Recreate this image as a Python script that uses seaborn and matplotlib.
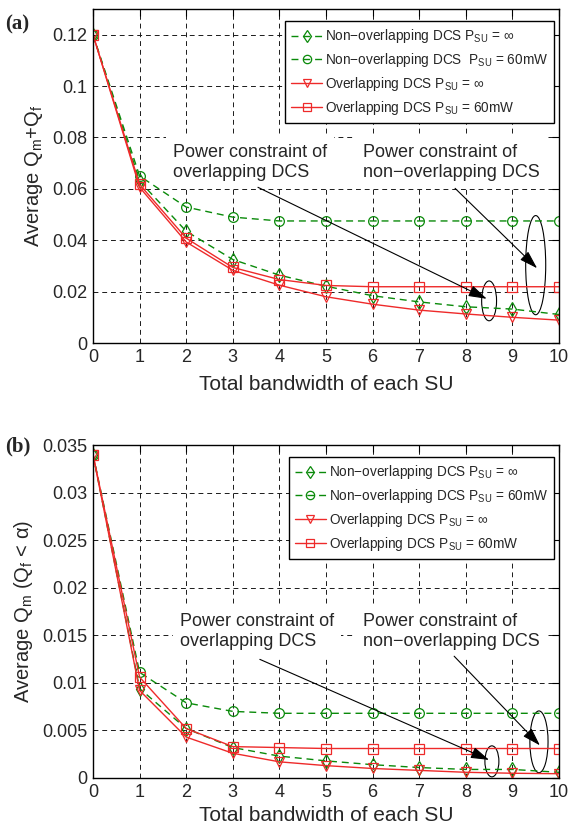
import numpy as np
import pandas as pd
import seaborn as sns
import matplotlib
matplotlib.use("Agg")
import matplotlib.pyplot as plt
from matplotlib.patches import Ellipse
from matplotlib.lines import Line2D

# ---------------- data ----------------
bandwidth = [0, 1, 2, 3, 4, 5, 6, 7, 8, 9, 10]

# panel (a): Average Qm + Qf
a_nonov_inf = [0.120, 0.063, 0.0435, 0.0325, 0.0264, 0.0221, 0.0184, 0.0160, 0.0141, 0.0132, 0.0111]
a_nonov_60 = [0.120, 0.065, 0.0529, 0.0490, 0.0475, 0.0475, 0.0475, 0.0475, 0.0475, 0.0475, 0.0475]
a_ov_inf = [0.120, 0.0606, 0.0393, 0.0283, 0.0225, 0.0180, 0.0151, 0.0128, 0.0113, 0.0100, 0.0089]
a_ov_60 = [0.120, 0.0617, 0.0408, 0.0294, 0.0247, 0.0224, 0.0219, 0.0219, 0.0219, 0.0219, 0.0219]

# panel (b): Average Qm (Qf < alpha)
b_nonov_inf = [0.0340, 0.0094, 0.0052, 0.0032, 0.0023, 0.0018, 0.0014, 0.0011, 0.0009, 0.0009, 0.0006]
b_nonov_60 = [0.0340, 0.0111, 0.0079, 0.0070, 0.0068, 0.0068, 0.0068, 0.0068, 0.0068, 0.0068, 0.0068]
b_ov_inf = [0.0340, 0.0092, 0.0043, 0.0026, 0.0017, 0.0013, 0.0010, 0.0008, 0.0006, 0.0005, 0.00045]
b_ov_60 = [0.0340, 0.0106, 0.0052, 0.0033, 0.0032, 0.0031, 0.0031, 0.0031, 0.0031, 0.0031, 0.0031]

labels_a = ["Non\u2212overlapping DCS P$_{\\mathregular{SU}}$ = \u221e",
            "Non\u2212overlapping DCS  P$_{\\mathregular{SU}}$ = 60mW",
            "Overlapping DCS P$_{\\mathregular{SU}}$ = \u221e",
            "Overlapping DCS P$_{\\mathregular{SU}}$ = 60mW"]
labels_b = ["Non\u2212overlapping DCS P$_{\\mathregular{SU}}$ = \u221e",
            "Non\u2212overlapping DCS P$_{\\mathregular{SU}}$ = 60mW",
            "Overlapping DCS P$_{\\mathregular{SU}}$ = \u221e",
            "Overlapping DCS P$_{\\mathregular{SU}}$ = 60mW"]

xticks = list(range(0, 11))
yticks_a = [0, 0.02, 0.04, 0.06, 0.08, 0.1, 0.12]
yticklabels_a = ["0", "0.02", "0.04", "0.06", "0.08", "0.1", "0.12"]
yticks_b = [0, 0.005, 0.01, 0.015, 0.02, 0.025, 0.03, 0.035]
yticklabels_b = ["0", "0.005", "0.01", "0.015", "0.02", "0.025", "0.03", "0.035"]

ann_text1 = "Power constraint of\noverlapping DCS"
ann_text2 = "Power constraint of\nnon\u2212overlapping DCS"

# ---------------- style ----------------
sns.set_style("white")
plt.rcParams['font.family'] = ['Liberation Sans', 'DejaVu Sans']
plt.rcParams['mathtext.fontset'] = 'custom'
plt.rcParams['mathtext.rm'] = 'Liberation Sans'
plt.rcParams['mathtext.it'] = 'Liberation Sans:italic'
plt.rcParams['mathtext.sf'] = 'Liberation Sans'

GREEN = "#0a8a0a"
RED = "#ee2a2a"
styles = [
    dict(color=GREEN, linestyle=(0, (5, 3.5)), marker="d"),
    dict(color=GREEN, linestyle=(0, (5, 3.5)), marker="o"),
    dict(color=RED, linestyle="-", marker="v"),
    dict(color=RED, linestyle="-", marker="s"),
]

fig = plt.figure(figsize=(5.73, 8.24), dpi=100)
ax_a = fig.add_axes([93 / 573, 1 - 343 / 824, (559 - 93) / 573, (343 - 9) / 824])
ax_b = fig.add_axes([93 / 573, 1 - 778 / 824, (559 - 93) / 573, (778 - 445) / 824])


def draw(ax, series, labels, yticks, yticklabels, ylim, ylabel, xpad):
    for vals, lab, st in zip(series, labels, styles):
        df = pd.DataFrame({"x": bandwidth, "y": vals})
        sns.lineplot(data=df, x="x", y="y", ax=ax, color=st["color"],
                     linestyle=st["linestyle"], marker=st["marker"],
                     markersize=7, markerfacecolor="none",
                     markeredgecolor=st["color"],
                     markeredgewidth=0.9, linewidth=1.0, label=lab)
    ax.set_xlim(0, 10)
    ax.set_ylim(*ylim)
    ax.set_xticks(xticks)
    ax.set_xticklabels([str(t) for t in xticks])
    ax.set_yticks(yticks)
    ax.set_yticklabels(yticklabels)
    ax.tick_params(direction="in", top=True, right=True, labelsize=13,
                   length=5, width=0.8, color="k", pad=4)
    ax.grid(True, color="0.1", linestyle=(0, (5, 4)), linewidth=0.7)
    for s in ax.spines.values():
        s.set_color("k")
        s.set_linewidth(1.0)
    ax.set_xlabel("Total bandwidth of each SU", fontsize=15, labelpad=xpad)
    ax.set_ylabel(ylabel, fontsize=14.5, labelpad=5)
    handles = [Line2D([], [], color=st["color"], linestyle=st["linestyle"],
                      marker=st["marker"], markersize=6, markerfacecolor="none",
                      markeredgewidth=0.9, linewidth=1.0) for st in styles]
    leg = ax.legend(handles, labels, loc="upper right", fontsize=9.8,
                    frameon=True, fancybox=False, edgecolor="k",
                    handlelength=2.3, handletextpad=0.2, borderpad=0.45,
                    borderaxespad=0.0, labelspacing=0.42,
                    bbox_to_anchor=(0.99, 0.963))
    leg.get_frame().set_linewidth(1.0)
    leg.get_frame().set_alpha(1)
    leg.set_zorder(6)


draw(ax_a, [a_nonov_inf, a_nonov_60, a_ov_inf, a_ov_60], labels_a,
     yticks_a, yticklabels_a, (0, 0.13),
     "Average Q$_{\\mathregular{m}}$+Q$_{\\mathregular{f}}$", 7)
draw(ax_b, [b_nonov_inf, b_nonov_60, b_ov_inf, b_ov_60], labels_b,
     yticks_b, yticklabels_b, (0, 0.035),
     "Average Q$_{\\mathregular{m}}$ (Q$_{\\mathregular{f}}$ < \u03b1)", 4)

arrow_kw = dict(arrowstyle="-|>,head_length=0.7,head_width=0.22", color="k",
                lw=0.8, mutation_scale=16, shrinkA=0, shrinkB=0)
box_kw = dict(facecolor="white", edgecolor="none", pad=5)

# panel (a) annotations
ax_a.text(1.72, 0.0702, ann_text1, fontsize=13, va="center", ha="left",
          linespacing=1.25, bbox=box_kw, zorder=4)
ax_a.text(5.79, 0.0702, ann_text2, fontsize=13, va="center", ha="left",
          linespacing=1.25, bbox=box_kw, zorder=4)
ax_a.annotate("", xy=(8.45, 0.0172), xytext=(3.54, 0.0606), arrowprops=arrow_kw,
              zorder=5)
ax_a.annotate("", xy=(9.53, 0.0291), xytext=(7.77, 0.0602), arrowprops=arrow_kw,
              zorder=5)
ax_a.add_patch(Ellipse((8.5, 0.0164), 0.32, 0.0155, fill=False, ec="k", lw=0.8))
ax_a.add_patch(Ellipse((9.5, 0.0303), 0.43, 0.0386, fill=False, ec="k", lw=0.8))

# panel (b) annotations
ax_b.text(1.87, 0.0154, ann_text1, fontsize=13, va="center", ha="left",
          linespacing=1.25, bbox=box_kw, zorder=4)
ax_b.text(5.79, 0.0154, ann_text2, fontsize=13, va="center", ha="left",
          linespacing=1.25, bbox=box_kw, zorder=4)
ax_b.annotate("", xy=(8.5, 0.0019), xytext=(3.58, 0.01247), arrowprops=arrow_kw,
              zorder=5)
ax_b.annotate("", xy=(9.59, 0.00343), xytext=(7.75, 0.0128), arrowprops=arrow_kw,
              zorder=5)
ax_b.add_patch(Ellipse((8.56, 0.00175), 0.30, 0.00326, fill=False, ec="k", lw=0.8))
ax_b.add_patch(Ellipse((9.57, 0.0038), 0.39, 0.0065, fill=False, ec="k", lw=0.8))

# panel letters
fig.text(5 / 573, 1 - 24 / 824, "(a)", fontsize=15, fontweight="bold",
         family=["Liberation Serif", "DejaVu Serif"], va="center", ha="left")
fig.text(5 / 573, 1 - 446 / 824, "(b)", fontsize=15, fontweight="bold",
         family=["Liberation Serif", "DejaVu Serif"], va="center", ha="left")

fig.savefig("out.png", dpi=100)
